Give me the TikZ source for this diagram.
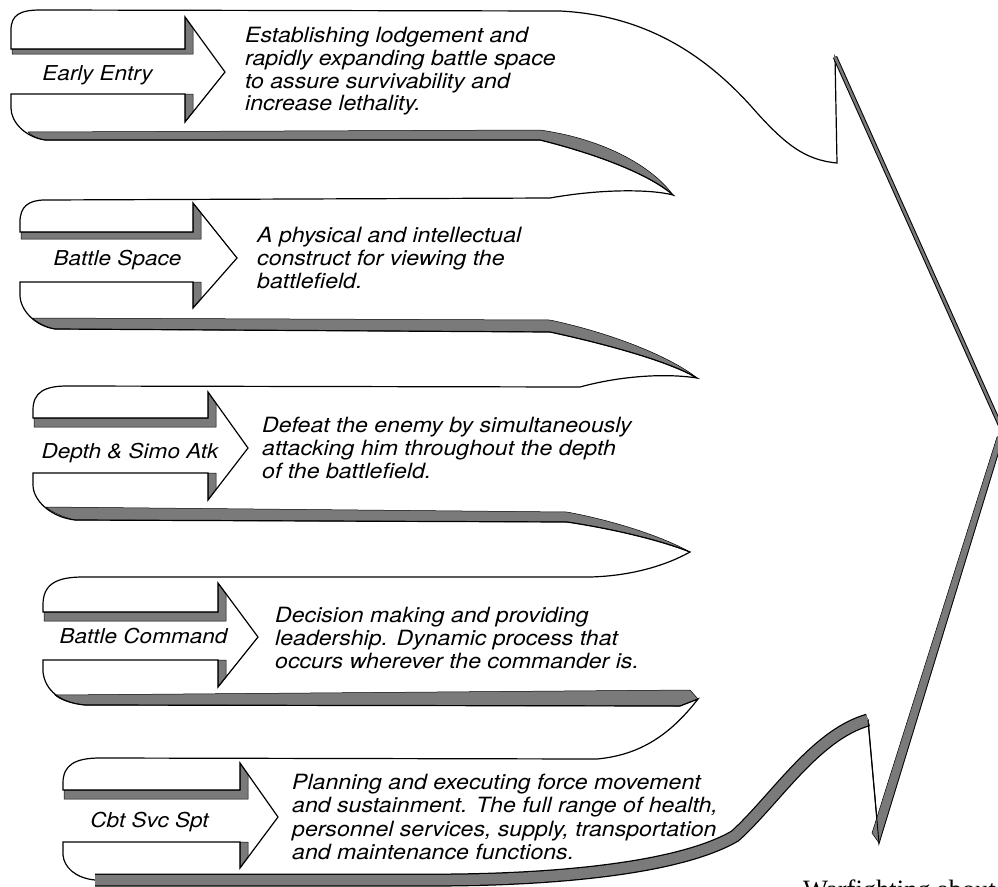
\documentclass[tikz,border=0pt]{standalone}
\usepackage{fontspec}
\newfontfamily\descfont{TeX Gyre Heros}[FakeStretch=1.1]
\newfontfamily\serfont{Liberation Serif}
\tikzset{
  outl/.style={draw=black, line width=1.2pt, line join=miter},
  shd/.style={fill=black!52, draw=black, line width=0.5pt},
  lab/.style={anchor=base, inner sep=0pt, font=\descfont\itshape\fontsize{20.5}{22}\selectfont},
  dsc/.style={anchor=base west, inner sep=0pt, font=\descfont\itshape\fontsize{21}{23}\selectfont},
}
% L S1 X H1 Xt Yt S2 H2 t
\newcommand\bandhead[9]{%
  \path[shd] ({#1+1},#2) -- (#3,#2) -- (#3,#4) -- ({#3+8},{#4+8*(#6-#4)/(#5-#3)}) -- ({#3+8},{#2+#9}) -- ({#1+1},{#2+#9}) -- cycle;
  \path[shd] (#3,#7) -- ({#3+8},#7) -- ({#3+8},{#8-8*(#8-#6)/(#5-#3)}) -- (#3,#8) -- cycle;
}
\begin{document}
\begin{tikzpicture}[x=1pt,y=-1pt]
\useasboundingbox (0,0) rectangle (998,886);
\clip (0,0) rectangle (998,886);
\fill[white] (0,0) rectangle (998,886);

% lobe shading
\path[shd] (28,132) -- (540,130) .. controls (610,140) and (655,170) .. (673,195) .. controls (650,175) and (600,155) .. (540,140) -- (45,140) .. controls (38,139) and (32,136) .. (28,132) -- cycle;
\path[shd] (32,318) -- (550,320) .. controls (620,335) and (675,360) .. (697,378) .. controls (670,362) and (610,345) .. (550,332) -- (55,329) .. controls (46,327) and (38,323) .. (32,318) -- cycle;
\path[shd] (46,507) -- (567,512) .. controls (620,522) and (665,538) .. (690,552) .. controls (665,542) and (620,530) .. (567,522) -- (75,520) .. controls (62,517) and (52,512) .. (46,507) -- cycle;
\path[shd] (55,695) -- (690,690) -- (698,699) -- (680,706) -- (85,705) .. controls (70,703) and (60,700) .. (55,695) -- cycle;

% arrow head shading
\bandhead{11}{49}{185}{17}{225}{72}{94}{122}{5}
\bandhead{20}{232}{193}{203}{237}{258}{282}{308}{7}
\bandhead{33}{418}{208}{392}{248}{448}{473}{500}{9}
\bandhead{43}{612}{218}{583}{258}{637}{660}{687}{9}
\bandhead{63}{790}{240}{763}{278}{817}{842}{868}{9}

% main outline
\path[outl] (11,49) -- (11,30) .. controls (11,15) and (20,10) .. (40,10) -- (560,11)
  .. controls (640,15) and (700,50) .. (750,105) .. controls (785,145) and (805,160) .. (837,163)
  -- (835,57) -- (1004,434) -- (879,843) -- (868,720)
  .. controls (815,735) and (775,800) .. (735,836) .. controls (680,868) and (560,879) .. (450,880)
  -- (95,880) .. controls (75,878) and (64,867) .. (63,855) -- (63,842)
  -- (240,842) -- (240,868) -- (278,817) -- (240,763) -- (240,790) -- (63,790)
  -- (63,783) .. controls (63,765) and (75,758) .. (100,758) -- (597,759)
  .. controls (640,755) and (670,735) .. (698,699) -- (680,706) -- (85,705)
  .. controls (60,703) and (45,690) .. (43,672) -- (43,660)
  -- (218,660) -- (218,687) -- (258,637) -- (218,583) -- (218,612) -- (43,612)
  -- (43,605) .. controls (43,585) and (55,577) .. (83,577) -- (590,577)
  .. controls (630,576) and (665,566) .. (690,552) .. controls (665,542) and (620,530) .. (567,522)
  -- (75,520) .. controls (50,517) and (33,500) .. (33,485) -- (33,473)
  -- (208,473) -- (208,500) -- (248,448) -- (208,392) -- (208,418) -- (33,418)
  -- (33,410) .. controls (33,392) and (45,386) .. (67,386) -- (580,387)
  .. controls (620,376) and (665,373) .. (697,378) .. controls (670,362) and (610,345) .. (550,332)
  -- (55,329) .. controls (35,326) and (20,310) .. (20,295) -- (20,282)
  -- (193,282) -- (193,308) -- (237,258) -- (193,203) -- (193,232) -- (20,232)
  -- (20,222) .. controls (20,207) and (28,200) .. (45,200) -- (550,198)
  .. controls (600,189) and (650,189) .. (673,195) .. controls (650,175) and (600,155) .. (540,140)
  -- (45,140) .. controls (25,137) and (11,122) .. (11,108) -- (11,94)
  -- (185,94) -- (185,122) -- (225,72) -- (185,17) -- (185,49) -- cycle;

% big arrow shading
\draw[line width=13pt, black] (95,880) -- (450,880) .. controls (560,879) and (680,868) .. (735,836) .. controls (775,800) and (815,735) .. (868,720);
\draw[line width=10.5pt, black!52] (95,880) -- (450,880) .. controls (560,879) and (680,868) .. (735,836) .. controls (775,800) and (815,735) .. (868,720);
\draw[line width=4.5pt, black] (835,57) -- (1004,434);
\draw[line width=2.5pt, black!52] (835,57) -- (1004,434);
\path[shd] (879,843) -- (1004,434) -- (997,437) -- (872,833) -- cycle;
\draw[line width=0.9pt] (868,720) -- (879,843);

% labels
\node[lab] (l1) at (97.5,80) {Early Entry};
\node[lab] (l2) at (117.5,265) {Battle Space};
\node[lab] (l3) at (130,458) {Depth \& Simo Atk};
\node[lab] (l4) at (143.5,643) {Battle Command};
\node[lab] (l5) at (149.5,827) {Cbt Svc Spt};

% descriptions
\node[dsc] (d11) at (245,42) {Establishing lodgement and};
\node[dsc] (d12) at (245,65) {rapidly expanding battle space};
\node[dsc] (d13) at (245,88) {to assure survivability and};
\node[dsc] (d14) at (245,110) {increase lethality.};

\node[dsc] (d21) at (257,242) {A physical and intellectual};
\node[dsc] (d22) at (257,265) {construct for viewing the};
\node[dsc] (d23) at (257,288) {battlefield.};

\node[dsc] (d31) at (262,432) {Defeat the enemy by simultaneously};
\node[dsc] (d32) at (262,455) {attacking him throughout the depth};
\node[dsc] (d33) at (262,478) {of the battlefield.};

\node[dsc] (d41) at (275,622) {Decision making and providing};
\node[dsc] (d42) at (275,645) {leadership. Dynamic process that};
\node[dsc] (d43) at (275,668) {occurs wherever the commander is.};

\node[dsc] (d51) at (292,789) {Planning and executing force movement};
\node[dsc] (d52) at (292,812) {and sustainment. The full range of health,};
\node[dsc] (d53) at (292,836) {personnel services, supply, transportation};
\node[dsc] (d54) at (292,859) {and maintenance functions.};

\node[anchor=base west, inner sep=0pt, font=\serfont\fontsize{26.5}{28}\selectfont] (wf) at (803,898) {Warfighting about};
\end{tikzpicture}
\end{document}
